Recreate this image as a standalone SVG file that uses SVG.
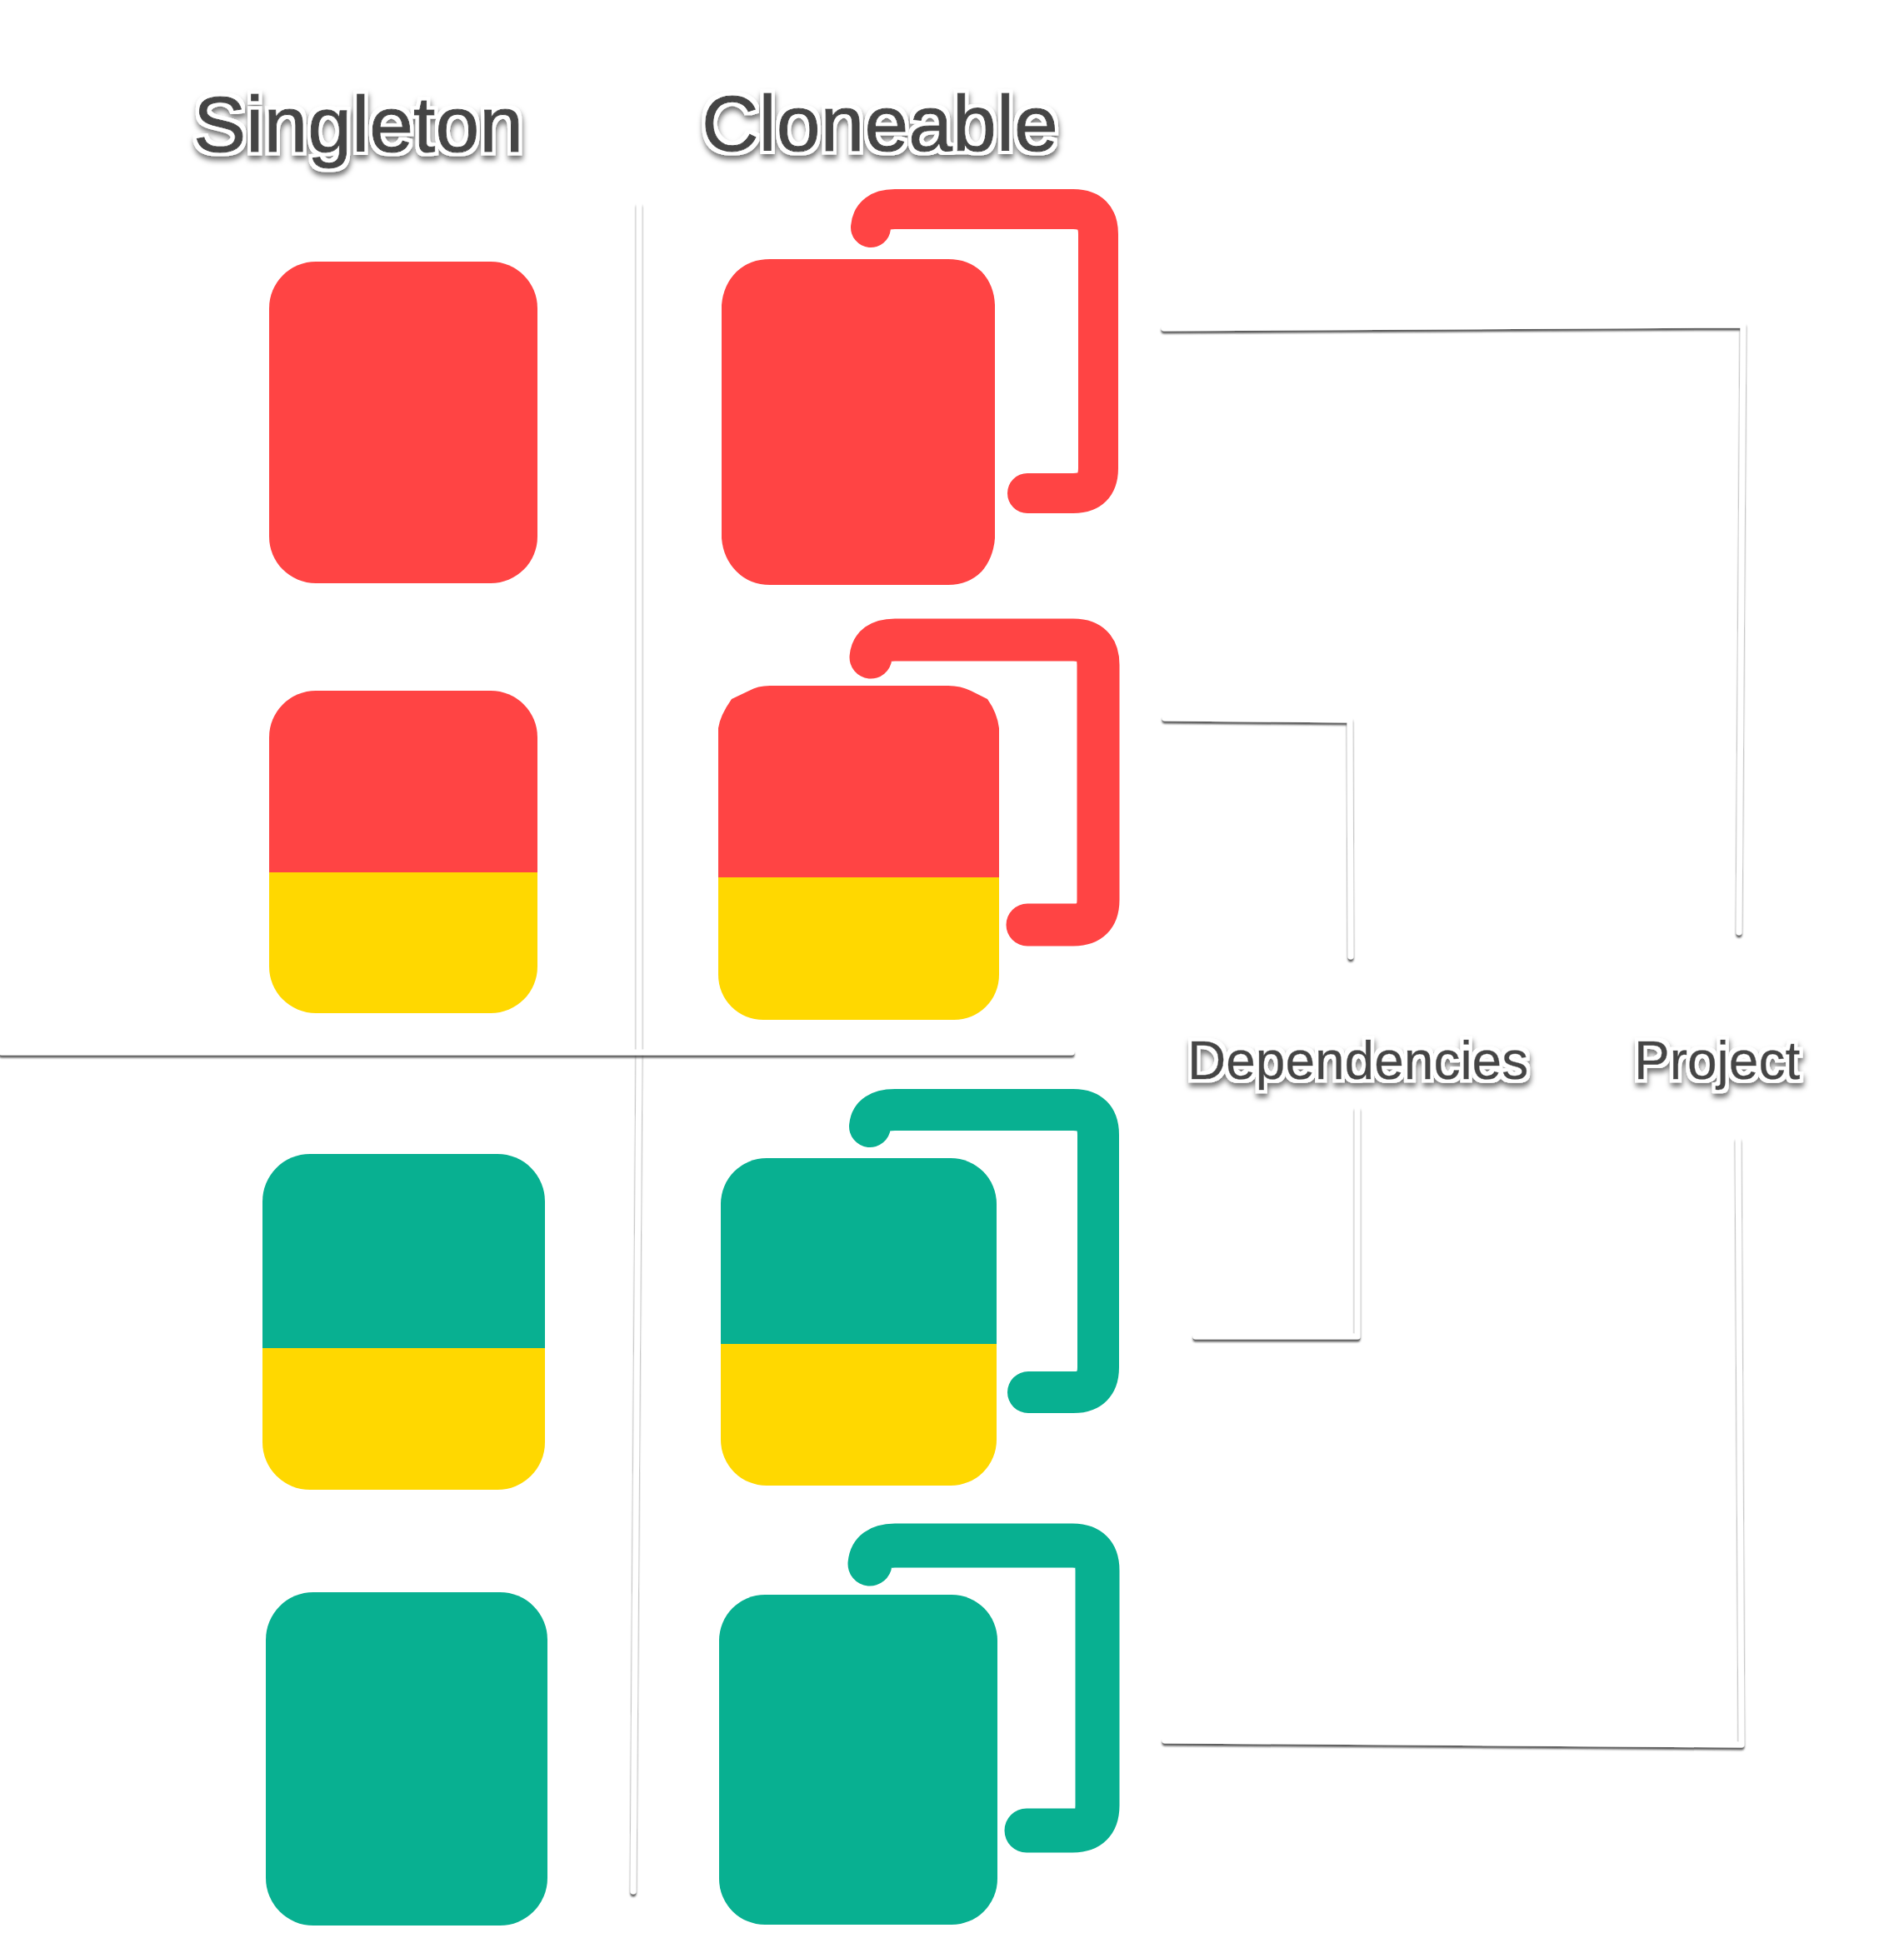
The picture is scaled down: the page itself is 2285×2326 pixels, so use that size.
<svg xmlns="http://www.w3.org/2000/svg" width="2285" height="2326" viewBox="0 0 2285 2326">
<defs>
<filter id="ts" x="-10%" y="-30%" width="120%" height="170%">
<feMorphology in="SourceAlpha" operator="dilate" radius="3.5" result="d"/>
<feGaussianBlur in="d" stdDeviation="0.7" result="db"/>
<feFlood flood-color="#fff"/><feComposite in2="db" operator="in" result="halo"/>
<feOffset in="db" dx="1" dy="5" result="o"/>
<feGaussianBlur in="o" stdDeviation="3" result="ob"/>
<feFlood flood-color="#000" flood-opacity="0.55"/><feComposite in2="ob" operator="in" result="shadow"/>
<feMerge><feMergeNode in="shadow"/><feMergeNode in="halo"/><feMergeNode in="SourceGraphic"/></feMerge>
</filter>
<filter id="ls" filterUnits="userSpaceOnUse" x="0" y="0" width="2285" height="2326"><feDropShadow dx="0" dy="3" stdDeviation="1.2" flood-color="#333" flood-opacity="0.8"/></filter>
</defs>
<style>
.title{font-family:"Liberation Sans",Arial,sans-serif;fill:#444;stroke:#444;stroke-width:1px;filter:url(#ts)}
.big{font-size:95px}
.small{font-size:64px;stroke-width:.5px}
.rule{fill:none;stroke:#fff;stroke-width:7;stroke-linecap:round;stroke-linejoin:round;filter:url(#ls)}
.red{fill:#f44}.yel{fill:#ffd800}.grn{fill:#08b091}
.hr{fill:none;stroke:#f44;stroke-linecap:round}
.hg{fill:none;stroke:#08b091;stroke-linecap:round}
</style>
<rect width="2285" height="2326" fill="#fff"/>
<g id="connectors">
<path class="rule" d="M767 246V1263L760 2270"/>
<path class="rule" d="M2 1263H1286"/>
<path class="rule" d="M1397 394L2092 390L2087 1119"/>
<path class="rule" d="M1398 862L1620 864L1621 1148"/>
<path class="rule" d="M1629 1331V1604H1435"/>
<path class="rule" d="M2086 1368L2090 2094L1398 2089"/>
</g>
<g id="label-singleton"><text class="title big" x="232" y="182">Singleton</text></g>
<g id="label-cloneable"><text class="title big" x="842" y="181">Cloneable</text></g>
<g id="label-dependencies"><text class="title small" x="1425" y="1295">Dependencies</text></g>
<g id="label-project"><text class="title small" x="1961" y="1295">Project</text></g>
<g id="singleton-red"><rect class="red" x="323" y="314" width="322" height="386" rx="56" ry="56"/></g>
<g id="singleton-red-yellow">
<path class="red" d="M323 1047V885a56 56 0 0 1 56-56H589a56 56 0 0 1 56 56V1047Z"/>
<path class="yel" d="M323 1047H645V1160a56 56 0 0 1-56 56H379a56 56 0 0 1-56-56Z"/>
</g>
<g id="singleton-green-yellow">
<path class="grn" d="M315 1618V1442a57 57 0 0 1 57-57H597a57 57 0 0 1 57 57V1618Z"/>
<path class="yel" d="M315 1618H654V1731a57 57 0 0 1-57 57H372a57 57 0 0 1-57-57Z"/>
</g>
<g id="singleton-green"><rect class="grn" x="319" y="1911" width="338" height="400" rx="57" ry="57"/></g>
<g id="cloneable-red">
<path class="hr" stroke-width="48" d="M1045 273Q1047 251 1074 251H1288Q1318 251 1318 281V562Q1318 592 1288 592H1233"/>
<path class="red" d="M866 366Q868 342 884 326Q900 311 924 311H1138Q1162 311 1178 326Q1193 342 1194 366V646Q1192 670 1178 686Q1162 702 1138 702H924Q900 702 884 686Q868 670 866 646Z"/>
</g>
<g id="cloneable-red-yellow">
<path class="hr" stroke-width="51" d="M1045 789Q1047 768 1074 768H1288Q1318 768 1318 798V1080Q1318 1110 1288 1110H1233"/>
<path class="red" d="M862 1053V874Q864 859 878 839L899 829Q909 823 924 823H1138Q1153 823 1165 829L1185 839Q1197 856 1199 874V1053Z"/>
<path class="yel" d="M862 1053H1199V1170a54 54 0 0 1-54 54H916a54 54 0 0 1-54-54Z"/>
</g>
<g id="cloneable-green-yellow">
<path class="hg" stroke-width="50" d="M1044 1352Q1046 1332 1074 1332H1288Q1318 1332 1318 1362V1641Q1318 1671 1288 1671H1234"/>
<path class="grn" d="M865 1613V1445a55 55 0 0 1 55-55H1141a55 55 0 0 1 55 55V1613Z"/>
<path class="yel" d="M865 1613H1196V1728a55 55 0 0 1-55 55H920a55 55 0 0 1-55-55Z"/>
</g>
<g id="cloneable-green">
<path class="hg" stroke-width="53" d="M1044 1877Q1046 1855 1074 1855H1287Q1317 1855 1317 1885V2167Q1317 2197 1287 2197H1232"/>
<rect class="grn" x="863" y="1914" width="334" height="396" rx="55" ry="55"/>
</g>
</svg>
